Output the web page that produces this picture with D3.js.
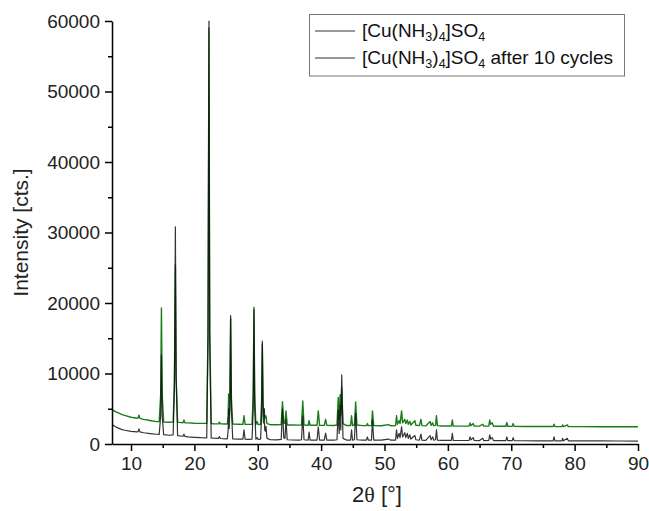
<!DOCTYPE html>
<html>
<head>
<meta charset="utf-8">
<script src="https://cdn.jsdelivr.net/npm/d3@7/dist/d3.min.js"></script>
<style>
  html, body { margin: 0; padding: 0; background: #fff; }
  svg { display: block; font-family: Arial, "Liberation Sans", sans-serif; }
</style>
</head>
<body>
<svg id="chart" width="649" height="511"></svg>
<script>
// Powder XRD patterns, [2θ (deg), intensity (cts)]
const pristinePattern = [
  [7.0,2750],[7.5,2480],[8.0,2250],[8.5,2080],[9.0,1950],[10.0,1800],[11.0,1720],[11.1,1760],[11.25,2150],[11.4,1720],
  [12.0,1600],[13.0,1480],[14.0,1380],[14.45,1370],[14.68,4000],[14.8,12600],[14.92,4000],[15.15,1330],[16.0,1240],[16.65,1300],
  [16.85,8000],[17.0,30800],[17.12,10000],[17.35,1200],[17.7,1150],[18.2,1100],[18.35,1400],[18.5,1090],[19.0,1020],
  [20.0,950],[21.0,900],[21.95,880],[22.15,15000],[22.3,60000],[22.42,15000],[22.65,850],[23.0,820],[23.8,790],[23.95,1050],
  [24.1,780],[25.0,740],[25.2,760],[25.33,2000],[25.4,5000],[25.5,2200],[25.6,5000],[25.72,18200],[25.84,5000],[26.05,720],[27.0,690],
  [27.65,680],[27.83,2000],[28.0,680],[28.5,660],[29.1,700],[29.28,5000],[29.4,19400],[29.52,5000],[29.7,680],[29.9,900],[30.05,650],
  [30.45,700],[30.6,4000],[30.72,14600],[30.84,4000],[30.92,3000],[31.0,5000],[31.1,2000],[31.2,1800],[31.3,2500],[31.45,800],[32.0,600],[33.0,590],[33.7,650],
  [33.9,5000],[34.1,900],[34.3,800],[34.45,3500],[34.65,600],[35.5,570],[36.5,560],[36.9,600],[37.1,4000],[37.3,600],
  [37.95,560],[38.1,1700],[38.25,560],[39.35,560],[39.55,2450],[39.75,560],[40.5,550],[40.7,1550],[40.9,550],[42.0,550],
  [42.5,600],[42.7,4800],[42.85,1500],[43.0,5500],[43.1,2000],[43.25,9800],[43.45,800],[44.0,560],[44.65,560],[44.8,2000],
  [44.95,560],[45.25,600],[45.45,4350],[45.65,600],[46.5,550],[47.15,550],[47.3,1000],[47.45,550],[47.95,560],[48.1,3400],
  [48.3,560],[49.5,540],[50.6,700],[51.0,540],[51.75,560],[51.9,2000],[52.05,800],[52.3,1500],[52.45,900],[52.7,2450],
  [52.85,1000],[53.2,1600],[53.35,900],[53.6,1500],[53.75,800],[54.0,1300],[54.15,700],[54.8,1200],[54.95,600],[55.5,550],
  [55.75,1400],[55.9,550],[56.5,520],[57.2,1200],[57.35,600],[57.6,1000],[57.75,550],[58.05,600],[58.2,2000],[58.35,550],
  [59.0,520],[60.0,510],[60.55,520],[60.7,1500],[60.85,510],[62.0,500],[63.35,520],[63.5,1000],[63.65,600],[64.0,900],
  [64.15,500],[65.0,490],[65.5,800],[65.65,490],[66.45,500],[66.6,1280],[66.75,700],[67.0,900],[67.2,480],[68.0,470],
  [69.15,480],[69.3,1000],[69.45,480],[70.15,470],[70.3,900],[70.45,470],[72.0,460],[74.0,455],[76.6,450],[76.75,1000],
  [76.9,450],[78.0,450],[78.1,800],[78.25,450],[78.85,800],[79.0,440],[81.0,440],[84.0,430],[87.0,425],[90.0,420]
];

const cycledPattern = [
  [7.0,4900],[7.5,4600],[8.0,4400],[8.5,4200],[9.0,4050],[10.0,3800],[11.0,3660],[11.1,3700],[11.25,4100],[11.4,3640],
  [12.0,3500],[13.0,3330],[14.0,3180],[14.45,3170],[14.68,7000],[14.8,19300],[14.92,7000],[15.15,3130],[16.0,3080],[16.65,3100],
  [16.85,9000],[17.0,25400],[17.12,9000],[17.35,3100],[17.7,3060],[18.2,3020],[18.35,3400],[18.5,3010],[19.0,2990],
  [20.0,2950],[21.0,2930],[21.95,2920],[22.15,16000],[22.3,59000],[22.42,16000],[22.65,2900],[23.0,2880],[23.8,2860],[23.95,3100],
  [24.1,2850],[25.0,2830],[25.2,2850],[25.33,4000],[25.4,7100],[25.5,4200],[25.6,6500],[25.72,17800],[25.84,6500],[26.05,2820],[27.0,2800],
  [27.65,2790],[27.83,4000],[28.0,2790],[28.5,2780],[29.1,2800],[29.28,7000],[29.4,19000],[29.52,7000],[29.7,2780],[29.9,3200],[30.05,2770],
  [30.45,2800],[30.6,6000],[30.72,14200],[30.84,6000],[30.92,4500],[31.0,5000],[31.1,3800],[31.2,3700],[31.3,4000],[31.45,2900],[32.0,2740],[33.0,2720],[33.7,2750],
  [33.9,6000],[34.1,3000],[34.3,2900],[34.45,4700],[34.65,2700],[35.5,2690],[36.5,2680],[36.9,2700],[37.1,6100],[37.3,2700],
  [37.95,2660],[38.1,3300],[38.25,2660],[39.35,2650],[39.55,4700],[39.75,2650],[40.5,2640],[40.7,3500],[40.9,2640],[42.0,2630],
  [42.5,2700],[42.7,6600],[42.85,3500],[43.0,7000],[43.1,4000],[43.25,8000],[43.45,2900],[44.0,2620],[44.65,2620],[44.8,4000],
  [44.95,2620],[45.25,2700],[45.45,5950],[45.65,2700],[46.5,2600],[47.15,2600],[47.3,2900],[47.45,2600],[47.95,2600],[48.1,4700],
  [48.3,2600],[49.5,2580],[50.6,2750],[51.0,2580],[51.75,2600],[51.9,4000],[52.05,2800],[52.3,3300],[52.45,2900],[52.7,4700],
  [52.85,3000],[53.2,3500],[53.35,2900],[53.6,3400],[53.75,2800],[54.0,3200],[54.15,2700],[54.8,3300],[54.95,2650],[55.5,2600],
  [55.75,3500],[55.9,2600],[56.5,2570],[57.2,3200],[57.35,2650],[57.6,3000],[57.75,2600],[58.05,2650],[58.2,4000],[58.35,2600],
  [59.0,2560],[60.0,2550],[60.55,2560],[60.7,3400],[60.85,2550],[62.0,2540],[63.35,2560],[63.5,3000],[63.65,2600],[64.0,2900],
  [64.15,2540],[65.0,2530],[65.5,2800],[65.65,2530],[66.45,2550],[66.6,3400],[66.75,2800],[67.0,3000],[67.2,2520],[68.0,2510],
  [69.15,2520],[69.3,3070],[69.45,2520],[70.15,2500],[70.3,2900],[70.45,2500],[72.0,2490],[74.0,2480],[76.6,2480],[76.75,2800],
  [76.9,2480],[78.0,2470],[78.1,2700],[78.25,2470],[78.85,2700],[79.0,2460],[81.0,2460],[84.0,2455],[87.0,2450],[90.0,2450]
];

const xMajorTicks = [10, 20, 30, 40, 50, 60, 70, 80, 90];
const xMinorTicks = [15, 25, 35, 45, 55, 65, 75, 85];
const yMajorTicks = [0, 10000, 20000, 30000, 40000, 50000, 60000];
const yMinorTicks = [5000, 15000, 25000, 35000, 45000, 55000];

const seriesColors = ["#111111", "#1a7d1a"];

const svg = d3.select("#chart");
const margin = { left: 112, right: 11, top: 21, bottom: 67 };
const W = 649, H = 511;

const x = d3.scaleLinear().domain([7, 90]).range([margin.left, W - margin.right]);
const y = d3.scaleLinear().domain([0, 60000]).range([H - margin.bottom, margin.top]);

// pattern traces
const line = d3.line().x(d => x(d[0])).y(d => y(d[1]));
svg.append("path").datum(cycledPattern)
  .attr("fill", "none").attr("stroke", seriesColors[1]).attr("stroke-width", 1.4)
  .attr("stroke-linejoin", "round").attr("d", line);
svg.append("path").datum(pristinePattern)
  .attr("fill", "none").attr("stroke", seriesColors[0]).attr("stroke-width", 1.2)
  .attr("stroke-opacity", 0.85).attr("stroke-linejoin", "round").attr("d", line);

// axes
const tickFont = "19px";
svg.append("g").attr("transform", `translate(0,${y(0)})`)
  .call(d3.axisBottom(x).tickValues(xMajorTicks).tickSize(7).tickSizeOuter(0).tickPadding(6));
svg.append("g").attr("transform", `translate(0,${y(0)})`)
  .call(d3.axisBottom(x).tickValues(xMinorTicks).tickSize(4).tickFormat(""))
  .call(g => g.select(".domain").remove());
svg.append("g").attr("transform", `translate(${x(7)},0)`)
  .call(d3.axisLeft(y).tickValues(yMajorTicks).tickSize(7).tickSizeOuter(0).tickPadding(5).tickFormat(d3.format("d")));
svg.append("g").attr("transform", `translate(${x(7)},0)`)
  .call(d3.axisLeft(y).tickValues(yMinorTicks).tickSize(4).tickFormat(""))
  .call(g => g.select(".domain").remove());

svg.selectAll(".domain, .tick line").attr("stroke", "#000").attr("stroke-width", 1.5);
svg.selectAll(".tick text").attr("font-size", tickFont).attr("fill", "#222")
  .attr("font-family", "Arial, 'Liberation Sans', sans-serif");

// axis titles
const xTitle = svg.append("text").attr("x", (x(7) + x(90)) / 2 + 2).attr("y", 502)
  .attr("text-anchor", "middle").attr("font-size", "22px").attr("fill", "#222");
xTitle.append("tspan").text("2");
xTitle.append("tspan").attr("font-family", "'Liberation Serif', 'Times New Roman', serif").text("θ");
xTitle.append("tspan").text(" [°]");
svg.append("text").attr("transform", `translate(28,${(y(0) + y(60000)) / 2}) rotate(-90)`)
  .attr("text-anchor", "middle").attr("font-size", "21px").attr("fill", "#222")
  .text("Intensity [cts.]");

// legend
const legend = svg.append("g");
legend.append("rect").attr("x", 309.5).attr("y", 14.5).attr("width", 315).attr("height", 61.5)
  .attr("fill", "#fff").attr("stroke", "#777").attr("stroke-width", 1);
const legendRows = [
  { suffix: "" },
  { suffix: " after 10 cycles" }
];
legendRows.forEach((row, i) => {
  const yb = 37 + i * 27;
  legend.append("line").attr("x1", 315).attr("x2", 355).attr("y1", yb - 6).attr("y2", yb - 6)
    .attr("stroke", "#333").attr("stroke-width", 1);
  const t = legend.append("text").attr("x", 362).attr("y", yb)
    .attr("font-size", "19px").attr("fill", "#111");
  t.append("tspan").text("[Cu(NH");
  t.append("tspan").attr("font-size", "12.5px").attr("dy", 4).text("3");
  t.append("tspan").attr("dy", -4).text(")");
  t.append("tspan").attr("font-size", "12.5px").attr("dy", 4).text("4");
  t.append("tspan").attr("dy", -4).text("]SO");
  t.append("tspan").attr("font-size", "12.5px").attr("dy", 4).text("4");
  if (row.suffix) t.append("tspan").attr("dy", -4).text(row.suffix);
});
</script>
</body>
</html>
